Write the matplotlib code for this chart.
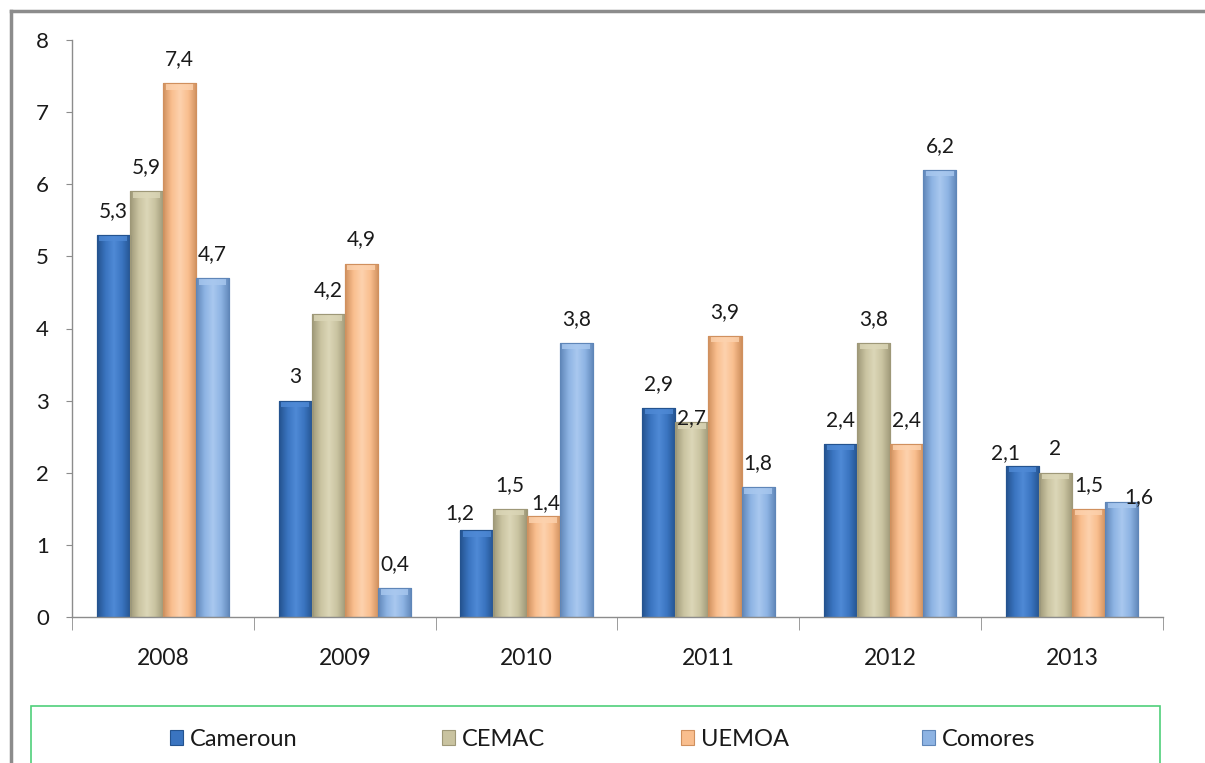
import numpy as np
import matplotlib
matplotlib.use("Agg")
import matplotlib.pyplot as plt
from matplotlib.colors import LinearSegmentedColormap
from matplotlib.patches import Patch, Rectangle
from matplotlib.lines import Line2D

plt.rcParams['font.family'] = ['Lato', 'DejaVu Sans']

years = ['2008', '2009', '2010', '2011', '2012', '2013']
series = ['Cameroun', 'CEMAC', 'UEMOA', 'Comores']
cameroun = [5.3, 3.0, 1.2, 2.9, 2.4, 2.1]
cemac = [5.9, 4.2, 1.5, 2.7, 3.8, 2.0]
uemoa = [7.4, 4.9, 1.4, 3.9, 2.4, 1.5]
comores = [4.7, 0.4, 3.8, 1.8, 6.2, 1.6]

# base, dark edge, light centre
colours = [('#3a74c0', '#24538f', '#4f8ad6'),
           ('#c9c3a0', '#9e9878', '#dcd7b8'),
           ('#f9be8e', '#d0905e', '#fdd2ae'),
           ('#8db3e3', '#5f86b8', '#a9c8ef')]

# label nudges (px) where the original moved them off the default spot
nudge = {(0, 2): (-17, -7), (2, 2): (3, -11), (1, 3): (0, -20),
         (0, 5): (-17, -12), (3, 5): (17, -19)}

W, H = 1205, 763
fig = plt.figure(figsize=(W / 100, H / 100), dpi=100)
ax = fig.add_axes([72 / W, 1 - 617 / H, (1163 - 72) / W, (617 - 40) / H])

x = np.arange(len(years))
bw = 0.182
data = [cameroun, cemac, uemoa, comores]
grad = np.linspace(0, 1, 64).reshape(1, -1)
for i, vals in enumerate(data):
    base, dark, light = colours[i]
    cmap = LinearSegmentedColormap.from_list('g%d' % i, [dark, base, light, base, dark])
    pos = x + (i - 1.5) * bw
    bars = ax.bar(pos, vals, bw, color=base, edgecolor=dark, linewidth=0.8, zorder=2)
    for j, b in enumerate(bars):
        x0, h = b.get_x(), b.get_height()
        im = ax.imshow(grad, cmap=cmap, extent=(x0, x0 + bw, 0, h), aspect='auto', zorder=2.5)
        im.set_clip_path(b)
        cap = min(0.09, h * 0.3)
        ax.add_patch(Rectangle((x0 + 0.015, h - cap), bw - 0.03, cap, facecolor=light,
                               edgecolor='none', alpha=0.8, zorder=3))
        ax.add_patch(Rectangle((x0, 0), bw, h, facecolor='none', edgecolor=dark, linewidth=0.8, zorder=3.5))
        dx, dy = nudge.get((i, j), (0, 0))
        lab = ('%g' % vals[j]).replace('.', ',')
        ax.annotate(lab, (pos[j], h), xytext=(dx * 0.72, (24 + dy) * 0.72), textcoords='offset points',
                    ha='center', va='center', fontsize=15, color='#1a1a1a', zorder=5)

ax.set_xlim(-0.5, len(years) - 0.5)
ax.set_ylim(0, 8)
ax.set_yticks(range(0, 9))
ax.set_xticks(x)
ax.set_xticklabels(years)
ax.set_xticks(np.arange(len(years) + 1) - 0.5, minor=True)
for s in ['top', 'right']:
    ax.spines[s].set_visible(False)
for s in ['left', 'bottom']:
    ax.spines[s].set_color('#8c8c8c')
    ax.spines[s].set_linewidth(1.0)
ax.tick_params(axis='y', length=4.5, color='#8c8c8c', pad=12, labelsize=16, labelcolor='#1a1a1a')
ax.tick_params(axis='x', which='major', length=0, pad=22, labelsize=16.5, labelcolor='#1a1a1a')
ax.tick_params(axis='x', which='minor', length=9, color='#8c8c8c')

# outer chart frame (left and top visible)
fig.add_artist(Line2D([11 / W, 11 / W], [0, 1 - 11 / H], color='#8c8c8c', linewidth=2.5))
fig.add_artist(Line2D([11 / W, 1], [1 - 11 / H, 1 - 11 / H], color='#8c8c8c', linewidth=2.5))

# legend box
fig.add_artist(Rectangle((31 / W, -0.02), (1160 - 31) / W, 0.02 + 1 - 706 / H,
                         transform=fig.transFigure, facecolor='none', edgecolor='#4fd07a', linewidth=1.2))
leg_x = [170, 442, 681, 922]
for i, name in enumerate(series):
    base, dark, light = colours[i]
    h = Patch(facecolor=base, edgecolor=dark, linewidth=0.8)
    fig.legend([h], [name], loc='center left', bbox_to_anchor=(leg_x[i] / W, 1 - 739 / H),
               frameon=False, fontsize=17, handlelength=0.55, handleheight=0.6,
               handletextpad=0.3, borderpad=0, borderaxespad=0, labelcolor='#1a1a1a')

fig.savefig('out.png', dpi=100)
